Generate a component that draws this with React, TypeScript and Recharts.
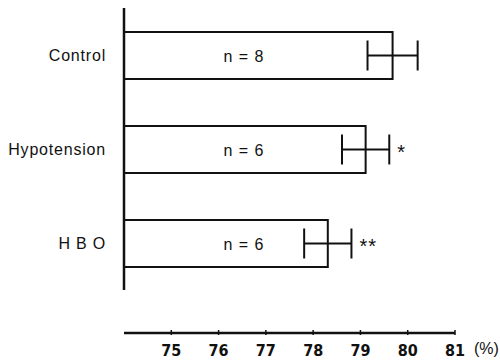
import { BarChart, Bar, XAxis, YAxis, ErrorBar, LabelList } from "recharts";

const groups = ["Control", "Hypotension", "H B O"];
const means = [79.68, 79.11, 78.31];
const errors = [0.53, 0.5, 0.5];
const counts = ["n = 8", "n = 6", "n = 6"];
const marks = ["", "*", "**"];
const xTicks = [75, 76, 77, 78, 79, 80, 81];
const xMin = 74;
const xMax = 81;

const data = groups.map((name, i) => ({
  name,
  value: means[i],
  err: errors[i],
  n: counts[i],
  mark: marks[i],
}));

const INK = "#111";

const CountLabel = (props: any) => {
  const { x, y, height, value } = props;
  return (
    <text
      x={x + 120}
      y={y + height / 2}
      dy={6}
      textAnchor="middle"
      fill={INK}
      fontSize={16}
      letterSpacing={1}
      fontFamily="Arial, Helvetica, sans-serif"
    >
      {value}
    </text>
  );
};

const MarkLabel = (props: any) => {
  const { x, y, width, height, index } = props;
  const row = data[index];
  if (!row || !row.mark) return null;
  const perUnit = width / (row.value - xMin);
  return (
    <text
      x={x + width + row.err * perUnit + 8}
      y={y + height / 2}
      dy={9}
      fill={INK}
      fontSize={20}
      letterSpacing={1}
      fontFamily="Arial, Helvetica, sans-serif"
    >
      {row.mark}
    </text>
  );
};

const BottomTick = (props: any) => {
  const { x, y, payload } = props;
  return (
    <g>
      <line x1={x} y1={y} x2={x} y2={y - 5} stroke={INK} strokeWidth={1.5} />
      <text
        x={x}
        y={y + 21}
        textAnchor="middle"
        fill={INK}
        fontSize={16}
        fontWeight="bold"
        fontFamily="'Liberation Sans Narrow', 'DejaVu Sans Condensed', sans-serif"
      >
        {payload.value}
      </text>
    </g>
  );
};

const PercentLabel = (props: any) => {
  const { viewBox } = props;
  const { x, y, width } = viewBox || {};
  return (
    <text
      x={x + width + 19}
      y={y + 21}
      fill={INK}
      fontSize={16}
      fontFamily="Arial, Helvetica, sans-serif"
    >
      (%)
    </text>
  );
};

export default function App() {
  return (
    <div
      style={{
        position: "absolute",
        left: 0,
        top: 0,
        width: 500,
        height: 361,
        background: "#fff",
        fontFamily: "Arial, Helvetica, sans-serif",
      }}
    >
      <div style={{ position: "absolute", left: 0, top: 0 }}>
        <BarChart
          width={500}
          height={300}
          data={data}
          layout="vertical"
          margin={{ top: 8, right: 45, bottom: 10, left: 0 }}
        >
          <XAxis type="number" domain={[xMin, xMax]} hide />
          <YAxis
            type="category"
            dataKey="name"
            width={124}
            tickLine={false}
            tickSize={0}
            tickMargin={18}
            axisLine={{ stroke: INK, strokeWidth: 2.5 }}
            tick={{ fill: INK, fontSize: 16, letterSpacing: 0.8 }}
          />
          <Bar
            dataKey="value"
            barSize={47}
            fill="#fff"
            stroke={INK}
            strokeWidth={2}
            isAnimationActive={false}
          >
            <ErrorBar
              dataKey="err"
              direction="x"
              width={15}
              stroke={INK}
              strokeWidth={2}
            />
            <LabelList dataKey="n" content={<CountLabel />} />
            <LabelList dataKey="mark" content={<MarkLabel />} />
          </Bar>
        </BarChart>
      </div>
      <div style={{ position: "absolute", left: 0, top: 300 }}>
        <BarChart
          width={500}
          height={61}
          data={data}
          layout="vertical"
          margin={{ top: 5, right: 45, bottom: 0, left: 124 }}
        >
          <YAxis type="category" dataKey="name" hide />
          <XAxis
            type="number"
            domain={[xMin, xMax]}
            ticks={xTicks}
            interval={0}
            allowDataOverflow
            height={28}
            tickLine={false}
            tickSize={0}
            axisLine={{ stroke: INK, strokeWidth: 2.5 }}
            tick={<BottomTick />}
            label={<PercentLabel />}
          />
          <Bar
            dataKey="value"
            fill="none"
            stroke="none"
            isAnimationActive={false}
          />
        </BarChart>
      </div>
    </div>
  );
}
